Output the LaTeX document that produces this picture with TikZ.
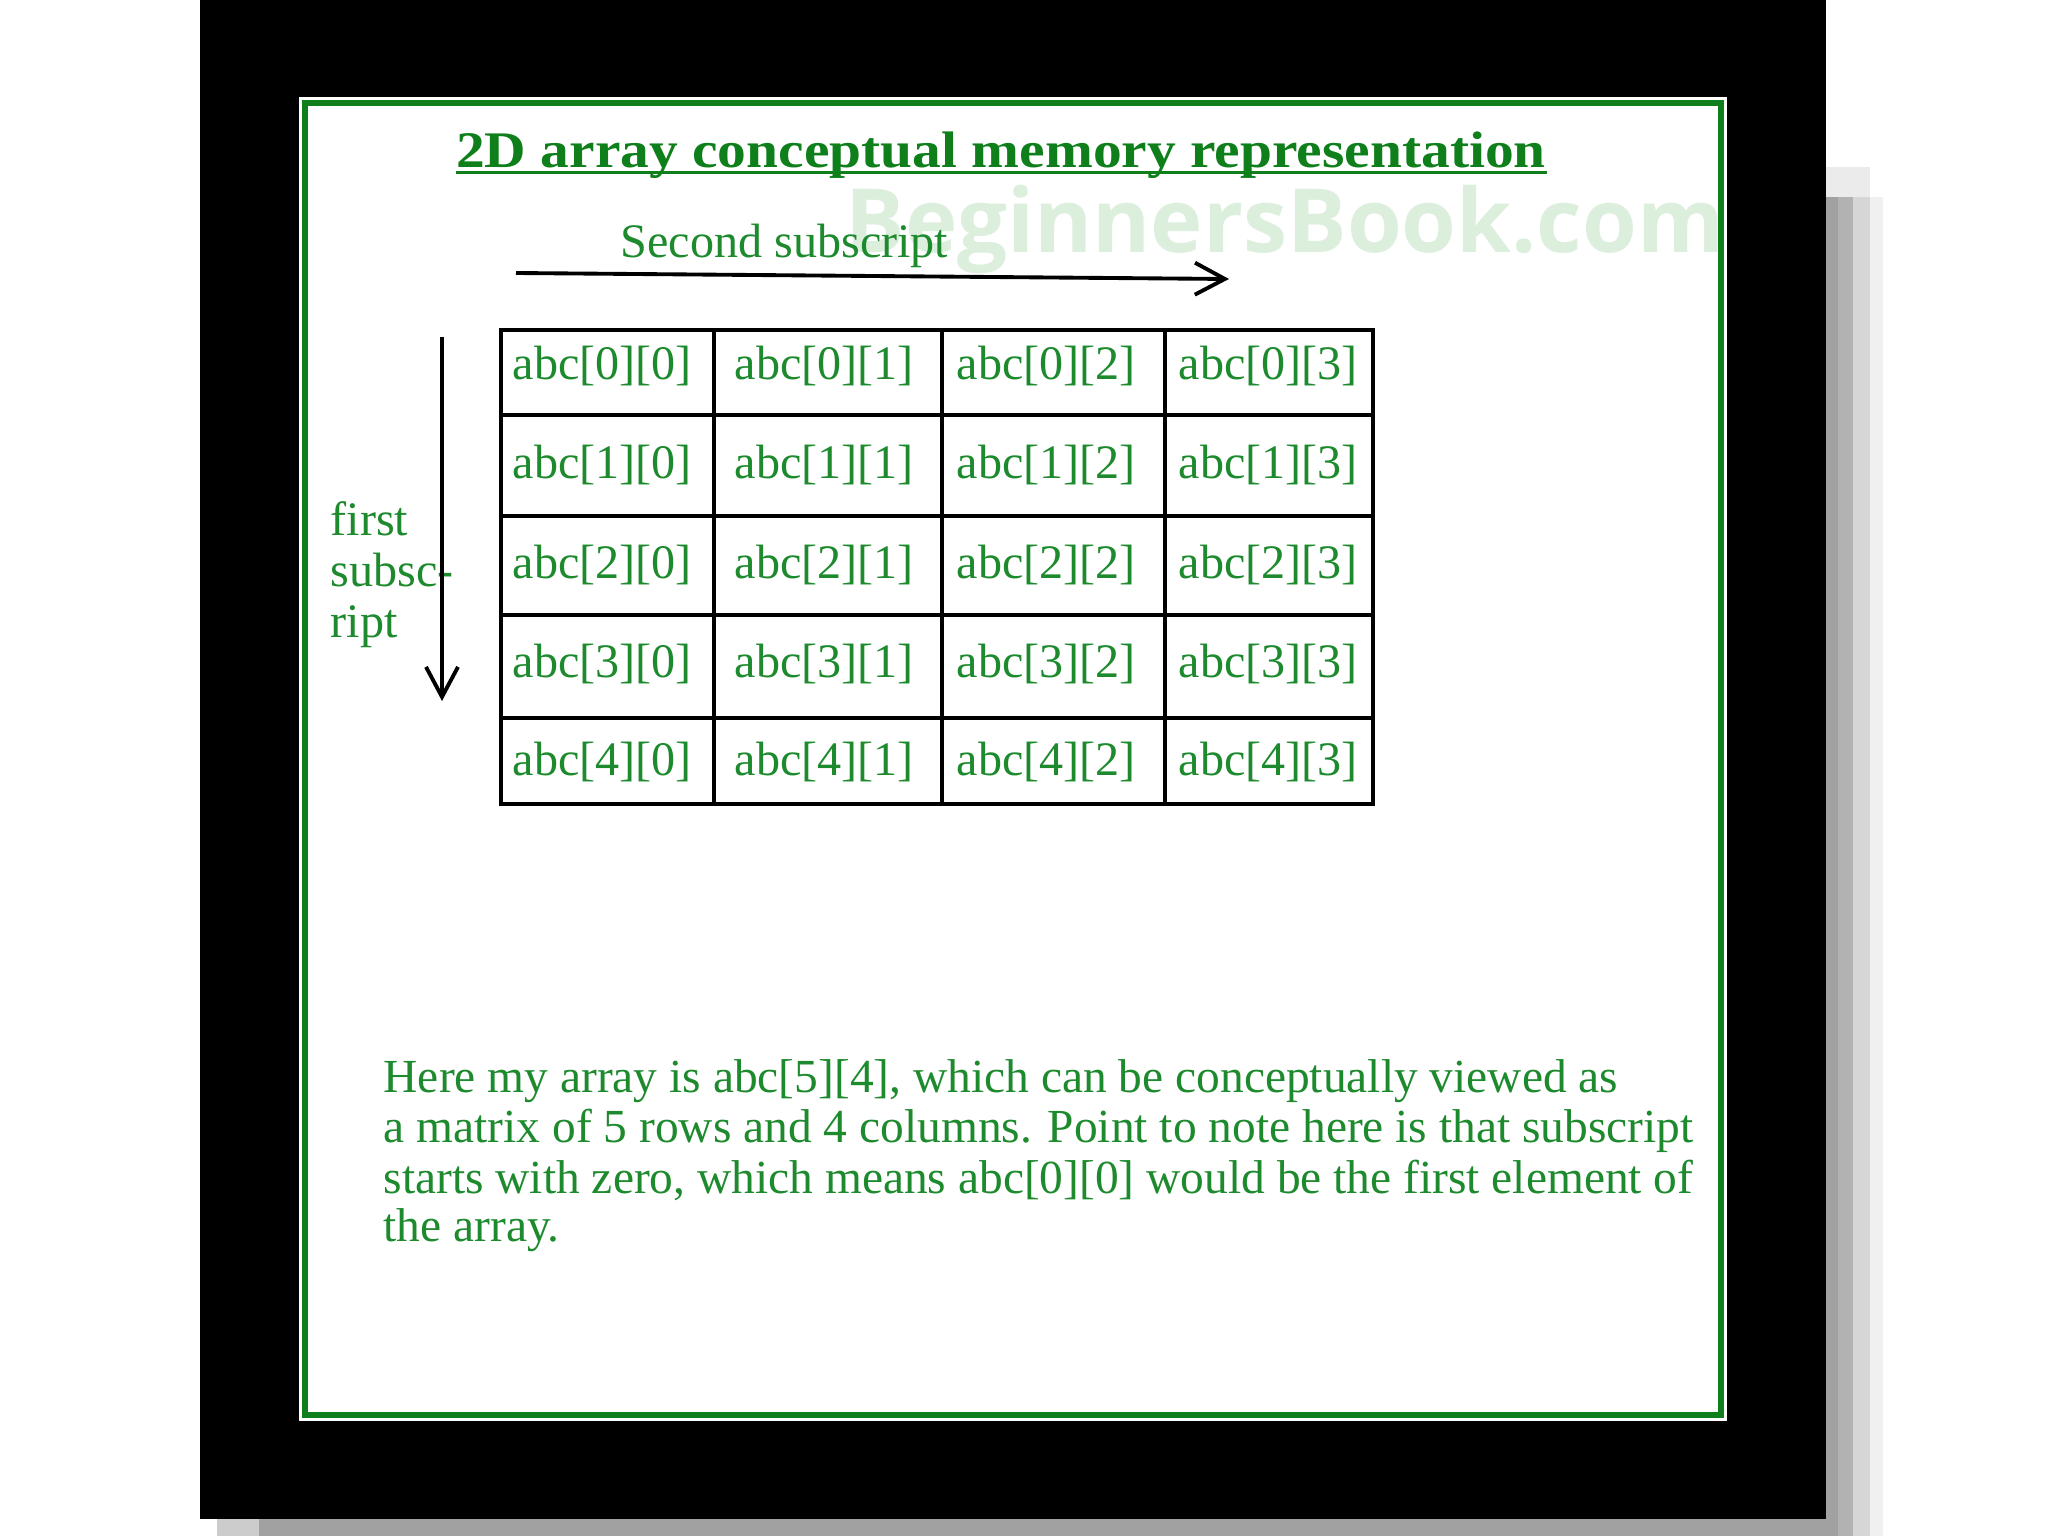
\documentclass[tikz,border=0pt]{standalone}
\usepackage{fontspec}
\setmainfont{Liberation Serif}
\newfontfamily\wmfont{Open Sans}
\newfontfamily\titlefont[FakeStretch=1.12]{Liberation Serif}
\usetikzlibrary{arrows.meta}
\definecolor{cgreen}{HTML}{0E7F1A}
\definecolor{ctext}{HTML}{1D8A2D}
\definecolor{cmark}{HTML}{DCEEDC}
\tikzset{
  celltext/.style={text=ctext, font=\fontsize{13.7}{16}\selectfont, inner sep=0pt, anchor=base west},
  note/.style={text=ctext, font=\fontsize{13.5}{16}\selectfont, inner sep=0pt, anchor=base west},
  title/.style={text=cgreen, font=\titlefont\bfseries\fontsize{14.6}{17}\selectfont, inner sep=0pt, anchor=base},
  arrow/.style={-{Straight Barb[length=3mm, width=3.2mm]}, line width=1.1pt},
  gridline/.style={line width=0.9pt},
}
\begin{document}
\begin{tikzpicture}
  \useasboundingbox (0,0) rectangle (20.48,-15.36);
  % frame with its shadow
  \fill[white] (0,0) rectangle (20.48,-15.36);
  \fill[black!8] (18.26,-1.67) rectangle (18.70,-1.97);
  \fill[black!37] (18.26,-1.97) rectangle (18.38,-15.36);
  \fill[black!30] (18.38,-1.97) rectangle (18.53,-15.36);
  \fill[black!16] (18.53,-1.97) rectangle (18.70,-15.36);
  \fill[black!6] (18.70,-1.97) rectangle (18.83,-15.36);
  \fill[black!20] (2.17,-15.19) rectangle (2.59,-15.36);
  \fill[black!37] (2.59,-15.19) rectangle (18.26,-15.36);
  \fill[black] (2.00,0) rectangle (18.26,-15.19);
  \fill[white] (2.99,-0.97) rectangle (17.27,-14.21);
  \draw[cgreen, line width=0.06cm] (3.05,-1.03) rectangle (17.21,-14.15);
  % watermark and title
  \node[inner sep=0pt, anchor=base west, text=cmark, font=\wmfont\bfseries\fontsize{25.2}{30}\selectfont] (mark) at (8.45,-2.53) {BeginnersBook.com};
  \node[title] (title) at (10.01,-1.68) {2D array conceptual memory representation};
  \draw[cgreen, line width=0.03cm] ([yshift=-0.05cm]title.base west) -- ([yshift=-0.05cm]title.base east);
  % subscripts
  \node[celltext] (second) at (6.20,-2.58) {Second subscript};
  \coordinate (hs) at (5.16,-2.73);
  \coordinate (he) at (12.29,-2.79);
  \draw[arrow] (hs) -- (he);
  \foreach \w [count=\i] in {first, subsc-, ript} \node[celltext] (fs\i) at (3.30,{-5.36-0.51*(\i-1)}) {\w};
  \coordinate (vs) at (4.42,-3.37);
  \coordinate (ve) at (4.42,-7.01);
  \draw[arrow] (vs) -- (ve);
  % the grid
  \foreach \x in {7.14, 9.42, 11.65} \draw[gridline] (\x,-3.30) -- (\x,-8.04);
  \foreach \y in {4.15, 5.16, 6.15, 7.18} \draw[gridline] (5.01,-\y) -- (13.73,-\y);
  \draw[line width=1.15pt] (5.01,-3.30) rectangle (13.73,-8.04);
  \foreach \r/\y in {0/3.80, 1/4.79, 2/5.78, 3/6.78, 4/7.76}
    \foreach \c in {0,...,3} \node[celltext] (t\r\c) at ({5.12+2.22*\c},-\y) {abc[\r][\c]};
  % the note below
  \node[note] (p1) at (3.83,-10.92) {Here my array is abc[5][4], which can be conceptually viewed as};
  \node[note] (p2) at (3.83,-11.42) {a matrix of 5 rows and 4 columns. Point to note here is that subscript};
  \node[note] (p3) at (3.83,-11.93) {starts with zero, which means abc[0][0] would be the first element of};
  \node[note] (p4) at (3.83,-12.41) {the array.};
\end{tikzpicture}
\end{document}
